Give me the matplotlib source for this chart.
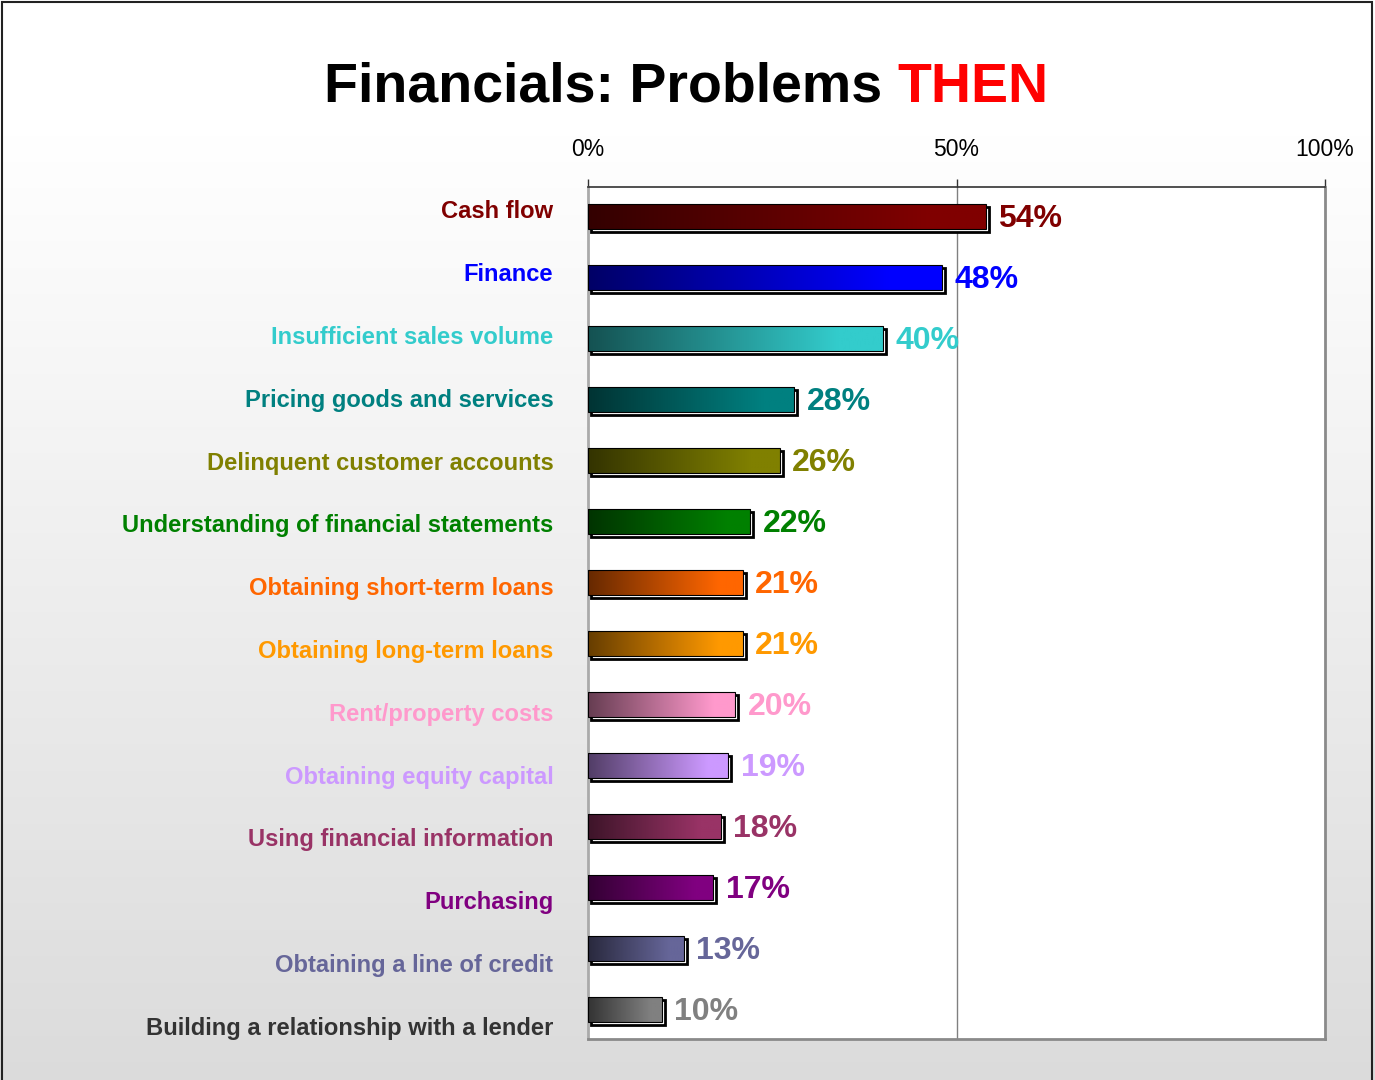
import numpy as np
import matplotlib
matplotlib.use("Agg")
import matplotlib.pyplot as plt
from matplotlib.patches import Rectangle
from matplotlib.colors import to_rgb

plt.rcParams['font.family'] = ['Liberation Sans', 'DejaVu Sans']

# survey results, top to bottom
categories = [
    "Cash flow", "Finance", "Insufficient sales volume", "Pricing goods and services",
    "Delinquent customer accounts", "Understanding of financial statements",
    "Obtaining short-term loans", "Obtaining long-term loans", "Rent/property costs",
    "Obtaining equity capital", "Using financial information", "Purchasing",
    "Obtaining a line of credit", "Building a relationship with a lender",
]
values = [54, 48, 40, 28, 26, 22, 21, 21, 20, 19, 18, 17, 13, 10]
bar_colors = ["#800000", "#0000FF", "#33CCCC", "#008080", "#808000", "#008000", "#FF6600",
              "#FF9900", "#FF99CC", "#CC99FF", "#993366", "#800080", "#666699", "#808080"]
label_colors = bar_colors[:-1] + ["#333333"]
ticks = [0, 50, 100]
tick_labels = ["0%", "50%", "100%"]

W, H = 1375, 1080
fig = plt.figure(figsize=(W / 100, H / 100), dpi=100)

# page background: white at top fading to light gray
bg = fig.add_axes([0, 0, 1, 1], zorder=-10)
bg.set_axis_off()
rows = np.arange(H)
shade = np.where(rows < 135, 1.0, 1.0 - (rows - 135) / (H - 135) * 0.14)
bg.imshow(np.dstack([shade, shade, shade]).reshape(H, 1, 3), aspect='auto',
          extent=[0, 1, 0, 1], interpolation='nearest')
bg.set_xlim(0, 1)
bg.set_ylim(0, 1)
bg.add_patch(Rectangle((2 / W, -0.01), (W - 5) / W, 1.01 - 2 / H, fill=False,
                       edgecolor="#222222", lw=1.5, transform=bg.transAxes))

# plot area in pixels: x 588..1325, y 187..1039
ax = fig.add_axes([588 / W, 1 - 1039 / H, 737 / W, 852 / H])
ax.set_facecolor("white")
n = len(values)

ax.axvline(50, color="#808080", lw=1, zorder=0)

bh = 0.41
dx, dy = 0.42, 0.05
for i, (v, c) in enumerate(zip(values, bar_colors)):
    bright = np.array(to_rgb(c))
    dark = bright * 0.4
    t = np.clip(np.linspace(0, 1, 256) / 0.85, 0, 1)[None, :, None]
    img = dark + (bright - dark) * t
    # offset frame behind the bar
    ax.add_patch(Rectangle((dx, i - bh / 2 + dy), v, bh, facecolor="white",
                           edgecolor="black", lw=2.0, zorder=2))
    ax.imshow(img, extent=[0, v, i + bh / 2, i - bh / 2], aspect='auto',
              interpolation='bilinear', zorder=3)
    ax.add_patch(Rectangle((0, i - bh / 2), v, bh, fill=False,
                           edgecolor="black", lw=0.8, zorder=4))
    ax.text(v + 1.7, i + 0.04, f"{v}%", color=c, fontsize=23, fontweight='bold',
            va='center', ha='left', zorder=5)

ax.set_xlim(0, 100)
ax.set_ylim(n - 1 + 0.49, -0.49)

# category labels
for i, (name, c) in enumerate(zip(categories, label_colors)):
    ax.text(-0.047, (-0.082 + i * 1.0304), name, color=c, fontsize=17.1,
            fontweight='bold', ha='right', va='center',
            transform=ax.get_yaxis_transform())

ax.set_yticks([])
ax.xaxis.tick_top()
ax.set_xticks(ticks)
ax.set_xticklabels(tick_labels, fontsize=16.5)
ax.tick_params(axis='x', direction='out', length=6, width=1, color="#333333", pad=13)
ax.spines['top'].set_color("#333333")
ax.spines['top'].set_linewidth(1.2)
for s in ['left', 'right', 'bottom']:
    ax.spines[s].set_color("#8a8a8a")
    ax.spines[s].set_linewidth(2)
ax.spines['left'].set_color("#aaaaaa")

# title in two colours
renderer = fig.canvas.get_renderer()
t1 = fig.text(0, 1 - 88 / H, "Financials: Problems ", fontsize=40, fontweight='bold',
              color="black", va='center', ha='left')
t2 = fig.text(0, 1 - 88 / H, "THEN", fontsize=40, fontweight='bold',
              color="#FF0000", va='center', ha='left')
w1 = t1.get_window_extent(renderer).width
w2 = t2.get_window_extent(renderer).width
x0 = 686 - (w1 + w2) / 2
t1.set_x(x0 / W)
t2.set_x((x0 + w1) / W)

fig.savefig("out.png", dpi=100)
